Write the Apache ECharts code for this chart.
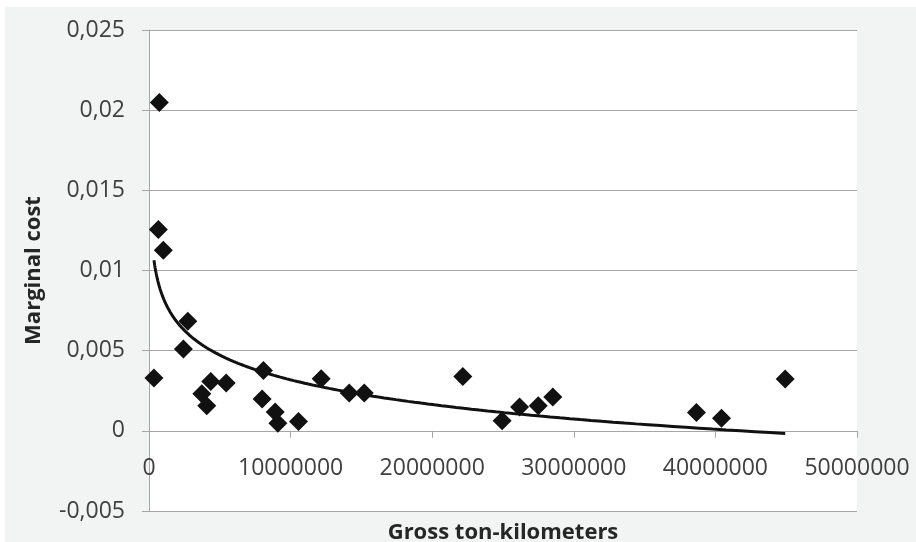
<!DOCTYPE html>
<html>
<head>
<meta charset="utf-8">
<script src="https://cdn.jsdelivr.net/npm/echarts@6/dist/echarts.min.js"></script>
<style>
html,body{margin:0;padding:0;background:#ffffff;}
#chart{width:916px;height:542px;}
</style>
</head>
<body>
<div id="chart"></div>
<script>
// Gross ton-kilometers
var grossTonKm = [730000, 660000, 1010000, 350000, 2740000, 2430000, 4360000, 3730000, 4080000, 5450000,
  8080000, 7990000, 8910000, 9100000, 10560000, 12160000, 14140000, 15200000, 22160000, 24940000,
  26170000, 27490000, 28520000, 38660000, 40430000, 44930000];
// Marginal cost
var marginalCost = [0.02048, 0.01256, 0.01127, 0.00329, 0.00683, 0.00511, 0.00308, 0.00231, 0.00156, 0.00298,
  0.00377, 0.00198, 0.00117, 0.00048, 0.00058, 0.00325, 0.00236, 0.00236, 0.00339, 0.00063,
  0.00148, 0.00156, 0.00211, 0.00115, 0.00079, 0.00323];
var xTickLabels = ['0', '10000000', '20000000', '30000000', '40000000', '50000000'];
var yTickLabels = ['-0,005', '0', '0,005', '0,01', '0,015', '0,02', '0,025'];

var points = grossTonKm.map(function (x, i) { return [x, marginalCost[i]]; });

// Logarithmic trendline (least squares of y on ln x), as in a spreadsheet trendline
var n = grossTonKm.length, sx = 0, sy = 0, sxx = 0, sxy = 0;
for (var i = 0; i < n; i++) {
  var lx = Math.log(grossTonKm[i]);
  sx += lx; sy += marginalCost[i]; sxx += lx * lx; sxy += lx * marginalCost[i];
}
var slope = (n * sxy - sx * sy) / (n * sxx - sx * sx);
var intercept = (sy - slope * sx) / n;
var xMin = Math.min.apply(null, grossTonKm), xMax = Math.max.apply(null, grossTonKm);
var trend = [];
for (var k = 0; k <= 200; k++) {
  var xv = xMin * Math.pow(xMax / xMin, k / 200);
  trend.push([xv, slope * Math.log(xv) + intercept]);
}

var FONT = '"Open Sans", "Liberation Sans", sans-serif';
var chart = echarts.init(document.getElementById('chart'), null, {renderer: 'canvas'});
chart.setOption({
  backgroundColor: '#ffffff',
  animation: false,
  graphic: [{
    type: 'rect', z: -10, silent: true,
    shape: {x: 5, y: 7, width: 911, height: 535},
    style: {fill: '#f2f3f3'}
  }],
  grid: {
    left: 149, top: 30, right: 59, bottom: 31,
    containLabel: false, outerBoundsMode: 'none',
    show: true, backgroundColor: '#ffffff', borderWidth: 0
  },
  xAxis: {
    type: 'value', min: 0, max: 50000000, interval: 10000000,
    axisLine: {show: true, onZero: true, lineStyle: {color: '#a6a6a6', width: 1}},
    axisTick: {show: true, length: 7, inside: false, lineStyle: {color: '#a6a6a6'}},
    splitLine: {show: false},
    axisLabel: {
      margin: -54, color: '#404040', fontFamily: FONT, fontSize: 23,
      formatter: function (v, idx) { return xTickLabels[Math.round(v / 10000000)]; }
    },
    name: 'Gross ton-kilometers', nameLocation: 'middle', nameGap: 11,
    nameTextStyle: {fontFamily: FONT, fontSize: 22, fontWeight: 'bold', color: '#262626'}
  },
  yAxis: {
    type: 'value', min: -0.005, max: 0.025, interval: 0.005,
    axisLine: {show: true, lineStyle: {color: '#a6a6a6', width: 1}},
    axisTick: {show: true, length: 7, lineStyle: {color: '#a6a6a6'}},
    splitLine: {show: true, lineStyle: {color: '#a6a6a6', width: 1}},
    axisLabel: {
      margin: 24, color: '#404040', fontFamily: FONT, fontSize: 23,
      formatter: function (v) { return yTickLabels[Math.round((v + 0.005) / 0.005)]; }
    },
    name: 'Marginal cost', nameLocation: 'middle', nameGap: 104,
    nameTextStyle: {fontFamily: FONT, fontSize: 22, fontWeight: 'bold', color: '#262626'}
  },
  series: [{
    type: 'line', data: trend, showSymbol: false, symbol: 'none', smooth: false,
    lineStyle: {color: '#111111', width: 3}, z: 3, silent: true
  }, {
    type: 'scatter', data: points, symbol: 'diamond', symbolSize: [19, 19],
    itemStyle: {color: '#111111', opacity: 1, borderWidth: 0}, z: 4
  }]
});
</script>
</body>
</html>
